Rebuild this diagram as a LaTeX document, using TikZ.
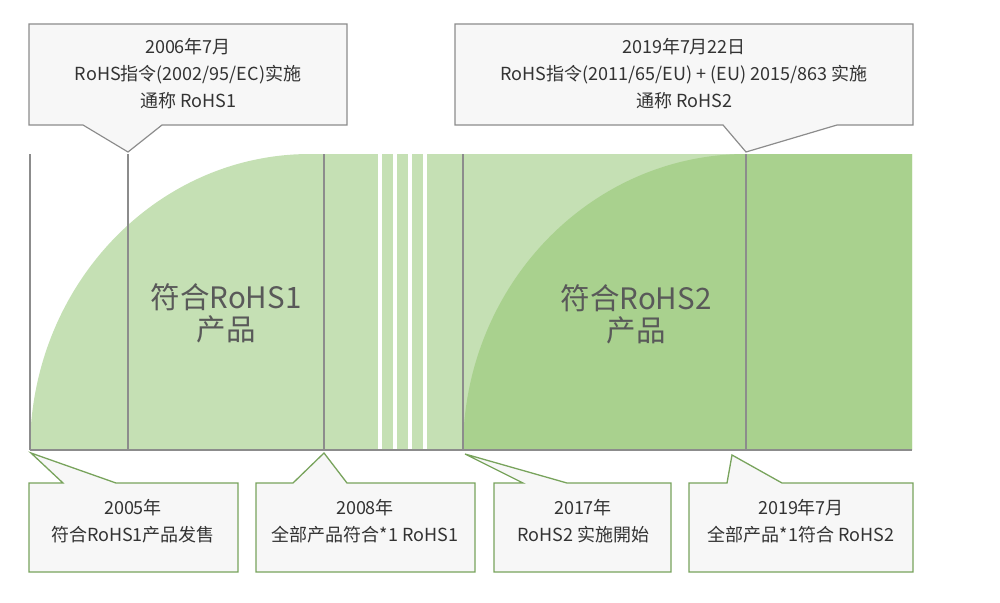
\documentclass[tikz,border=0pt]{standalone}
\usepackage{fontspec}
\newfontfamily\cjk{Noto Sans CJK SC}
\definecolor{lgreen}{HTML}{C5E0B4}
\definecolor{dgreen}{HTML}{A9D18E}
\definecolor{gline}{HTML}{8C8C8C}
\definecolor{cfill}{HTML}{F7F7F7}
\definecolor{cgreen}{HTML}{78A35C}
\definecolor{txt}{HTML}{333333}
\definecolor{bigtxt}{HTML}{595959}
\begin{document}
\begin{tikzpicture}[x=1pt,y=-1pt,
  gridline/.style={draw=gline,line width=1.1pt},
  topcall/.style={draw=gline,fill=cfill,line width=1.2pt,line join=miter},
  botcall/.style={draw=cgreen,fill=cfill,line width=1.3pt,line join=miter},
  small/.style={font=\cjk\fontsize{18}{27}\selectfont,text=txt,align=center,inner sep=0pt},
  big/.style={font=\cjk\fontsize{29.5}{32}\selectfont,text=bigtxt,align=center,inner sep=0pt},
  stripe/.style={fill=white,draw=none}]
\useasboundingbox (0,0) rectangle (1000,602);
% green areas
\fill[lgreen] (30,450) .. controls (30,286.5) and (155.4,154) .. (310,154) -- (912,154) -- (912,450) -- cycle;
\fill[dgreen] (463,450) .. controls (463,286.5) and (589.7,154) .. (746,154) -- (912,154) -- (912,450) -- cycle;
% white stripes
\foreach \sx in {378,393,407.5,422.5}{\fill[stripe] (\sx,154) rectangle ++(4,296);}
% grid lines
\coordinate (t0) at (30,154); \coordinate (b0) at (30,450);
\coordinate (t1) at (128,154); \coordinate (b1) at (128,450);
\coordinate (t2) at (324,154); \coordinate (b2) at (324,450);
\coordinate (t3) at (463,154); \coordinate (b3) at (463,450);
\coordinate (t4) at (746,154); \coordinate (b4) at (746,450);
\coordinate (bend) at (912,450);
\draw[gridline] (t0) -- (b0);
\draw[gridline] (t1) -- (b1);
\draw[gridline] (t2) -- (b2);
\draw[gridline] (t3) -- (b3);
\draw[gridline] (t4) -- (b4);
\draw[gridline] (b0) -- (bend);
% top callouts
\draw[topcall] (29,24) -- (347,24) -- (347,125) -- (162,125) -- (128,152) -- (83,125) -- (29,125) -- cycle;
\draw[topcall] (455,24) -- (913,24) -- (913,125) -- (837,125) -- (746,152) -- (723,125) -- (455,125) -- cycle;
% bottom callouts
\draw[botcall] (29,483) -- (63,483) -- (31,453) -- (116,483) -- (238,483) -- (238,572) -- (29,572) -- cycle;
\draw[botcall] (256,483) -- (293,483) -- (324,453) -- (347,483) -- (475,483) -- (475,572) -- (256,572) -- cycle;
\draw[botcall] (494,483) -- (523,483) -- (465,454) -- (567,483) -- (671,483) -- (671,572) -- (494,572) -- cycle;
\draw[botcall] (689,483) -- (727,483) -- (732,455) -- (782,483) -- (913,483) -- (913,572) -- (689,572) -- cycle;
% texts
\node[small] (c1) at (188,74) {2006年7月\\RoHS指令(2002/95/EC)实施\\通称 RoHS1};
\node[small] (c2) at (684,74) {2019年7月22日\\RoHS指令(2011/65/EU) + (EU) 2015/863 实施\\通称 RoHS2};
\node[small] (c3) at (133,521) {2005年\\符合RoHS1产品发售};
\node[small] (c4) at (365,521) {2008年\\全部产品符合*1 RoHS1};
\node[small] (c5) at (583,521) {2017年\\RoHS2 实施開始};
\node[small] (c6) at (801,521) {2019年7月\\全部产品*1符合 RoHS2};
\node[big] (r1) at (226,313) {符合RoHS1\\产品};
\node[big] (r2) at (636,314) {符合RoHS2\\产品};
\end{tikzpicture}
\end{document}
